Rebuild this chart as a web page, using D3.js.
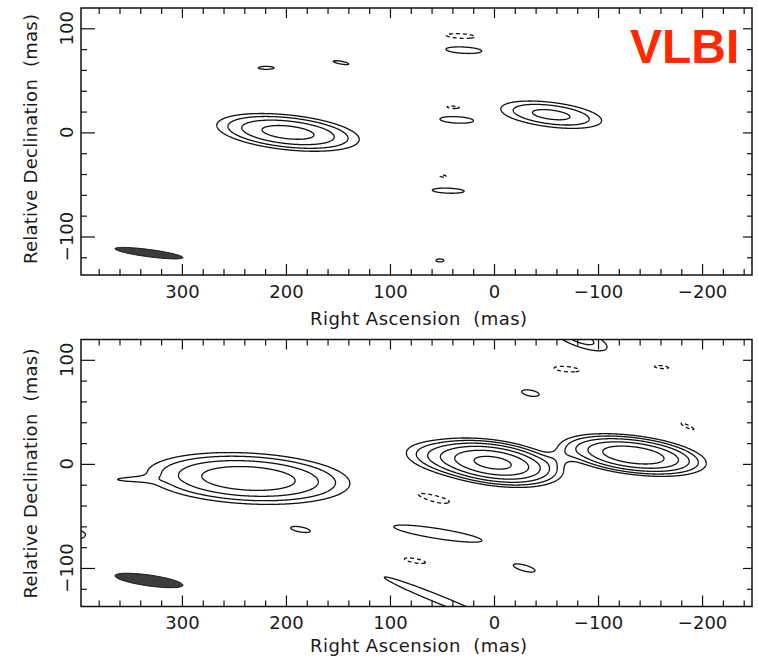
<!DOCTYPE html>
<html><head><meta charset="utf-8">
<script src="https://cdn.jsdelivr.net/npm/d3@7"></script>
<style>
  body { margin: 0; background: #fff; }
  svg text { font-family: "DejaVu Sans", sans-serif; fill: #1a1a1a; }
</style></head>
<body>
<svg id="chart" width="758" height="658"></svg>
<script>
// Contour levels in units of the lowest contour; negative ones are dashed
const levels = [1, 2, 4, 8, 16, 32];
const xMajor = [300, 200, 100, 0, -100, -200];
const yMajor = [100, 0, -100];

// Upper map: Gaussian brightness components
// (RA, Dec offsets in mas, peak in contour units, FWHM axes in mas, tilt in deg)
const topRA   = [198, -55, 29, 32, 36, 39, 44, 49, 52, 219, 147];
const topDec  = [0, 17, 79, 92.5, 12, 24, -56, -42, -123, 62, 67];
const topPeak = [11, 5, 1.3, -1.25, 1.3, -1.15, 1.25, -1.1, 1.15, 1.15, 1.15];
const topMaj  = [74, 64, 56, 50, 52, 30, 54, 15, 17, 34, 34];
const topMin  = [18, 15.5, 10, 8, 10, 6, 8.5, 5, 6.4, 6.4, 6];
const topPA   = [6, 7, 3, 3, 3, 3, 2, 0, 0, 0, 10];

// Lower map components
const botRA   = [236, 352, 0, 42, -134, -62, -82, -70, -35, -161, -186, 55, 24, 54, 76, -29, 52, 186, 402];
const botDec  = [-14, -15, 1, 5, 8.5, 6, 121, 91, 68, 93, 36, -34, -44, -67, -93, -100, -130.5, -63, -68];
const botPeak = [14, 0.95, 40, 4, 29, 0.9, 2.6, -1.3, 1.25, -1.15, -1.15, -1.3, 1.2, 1.5, -1.2, 1.25, 1.6, 1.2, 1.3];
const botMaj  = [100, 52, 58, 58, 64, 40, 48, 40, 30, 30, 30, 60, 28, 112, 40, 38, 140, 37, 30];
const botMin  = [25, 6, 19, 19, 17, 14, 14, 8, 10, 6, 6, 10, 8, 12.6, 8, 10, 9.3, 9.4, 14];
const botPA   = [3, 0, 8, 8, 7, -20, 20, 5, 10, 5, 25, 15, 10, 9, 10, 15, 22, 10, 0];

// Restoring beams (lower-left corner of each map)
const beamRA  = [331.7, 331.7];
const beamDec = [-116, -112];
const beamMaj = [66, 66];
const beamMin = [7, 10.5];
const beamPA  = [7.5, 8];

const svg = d3.select("#chart");
const left = 81, right = 752, panelH = 267;
const panelTops = [8, 339.5];

const x = d3.scaleLinear().domain([397, -248]).range([left, right]);

// Sampling grid (mas), slightly larger than the plotted window
const step = 0.5;
const raMax = 412, raMin = -262, decMax = 132, decMin = -148;
const nx = Math.round((raMax - raMin) / step) + 1;
const ny = Math.round((decMax - decMin) / step) + 1;

function brightness(ra, dec, peak, maj, min, pa) {
  const v = new Float64Array(nx * ny);
  const k = 4 * Math.LN2;
  for (let c = 0; c < ra.length; c++) {
    const t = pa[c] * Math.PI / 180, cs = Math.cos(t), sn = Math.sin(t);
    const a = k / (maj[c] * maj[c]), b = k / (min[c] * min[c]);
    const r = maj[c] * 1.8;
    const i0 = Math.max(0, Math.floor((raMax - (ra[c] + r)) / step));
    const i1 = Math.min(nx - 1, Math.ceil((raMax - (ra[c] - r)) / step));
    const j0 = Math.max(0, Math.floor((decMax - (dec[c] + r)) / step));
    const j1 = Math.min(ny - 1, Math.ceil((decMax - (dec[c] - r)) / step));
    for (let j = j0; j <= j1; j++) {
      const dy = (decMax - j * step) - dec[c];
      for (let i = i0; i <= i1; i++) {
        const dx = (raMax - i * step) - ra[c];
        const u = dx * cs + dy * sn, w = -dx * sn + dy * cs;
        v[j * nx + i] += peak[c] * Math.exp(-(a * u * u + b * w * w));
      }
    }
  }
  return v;
}

function drawPanel(idx, comps) {
  const top = panelTops[idx];
  const y = d3.scaleLinear().domain([119.5, -137]).range([top, top + panelH]);
  const g = svg.append("g");

  const clipId = "clip" + idx;
  g.append("clipPath").attr("id", clipId)
    .append("rect").attr("x", left).attr("y", top)
    .attr("width", right - left).attr("height", panelH);

  const plot = g.append("g").attr("clip-path", `url(#${clipId})`);

  const vals = brightness(...comps);
  const neg = vals.map(d => -d);
  const proj = d3.geoTransform({
    point(px, py) {
      this.stream.point(x(raMax - (px - 0.5) * step), y(decMax - (py - 0.5) * step));
    }
  });
  const path = d3.geoPath(proj);
  const gen = d3.contours().size([nx, ny]);

  plot.selectAll("path.pos").data(gen.thresholds(levels)(vals))
    .join("path").attr("class", "pos")
    .attr("d", path).attr("fill", "none")
    .attr("stroke", "#111").attr("stroke-width", 1.3).attr("stroke-linejoin", "round");

  plot.selectAll("path.neg").data(gen.thresholds([1])(neg))
    .join("path").attr("class", "neg")
    .attr("d", path).attr("fill", "none")
    .attr("stroke", "#111").attr("stroke-width", 1.3)
    .attr("stroke-dasharray", "4,3");

  // restoring beam
  const t = beamPA[idx] * Math.PI / 180;
  const pts = d3.range(0, 2 * Math.PI + 0.01, Math.PI / 60).map(a => {
    const u = beamMaj[idx] / 2 * Math.cos(a), w = beamMin[idx] / 2 * Math.sin(a);
    return [beamRA[idx] + u * Math.cos(t) - w * Math.sin(t),
            beamDec[idx] + u * Math.sin(t) + w * Math.cos(t)];
  });
  plot.append("path")
    .attr("d", d3.line().x(d => x(d[0])).y(d => y(d[1]))(pts))
    .attr("fill", "#3c3c3c").attr("stroke", "#111").attr("stroke-width", 1);

  // frame
  g.append("rect").attr("x", left).attr("y", top)
    .attr("width", right - left).attr("height", panelH)
    .attr("fill", "none").attr("stroke", "#111").attr("stroke-width", 1.5);

  const xMinor = d3.range(380, -250, -20).filter(d => d % 100 !== 0);
  const yMinor = d3.range(-120, 120, 20).filter(d => d % 100 !== 0);

  function axis(gen, tr, vals, size) {
    const a = g.append("g").attr("transform", tr)
      .call(gen.tickValues(vals).tickSize(size).tickFormat(""));
    a.select(".domain").remove();
    a.selectAll("line").attr("stroke", "#111").attr("stroke-width", 1.2);
    return a;
  }
  axis(d3.axisBottom(x), `translate(0,${top + panelH})`, xMinor, -6);
  axis(d3.axisTop(x), `translate(0,${top})`, xMinor, -6);
  axis(d3.axisTop(x), `translate(0,${top})`, xMajor, -10);
  axis(d3.axisLeft(y), `translate(${left},0)`, yMinor, -6);
  axis(d3.axisLeft(y), `translate(${left},0)`, yMajor, -14);
  axis(d3.axisRight(y), `translate(${right},0)`, yMinor, -5);
  axis(d3.axisRight(y), `translate(${right},0)`, yMajor, -9);

  const bx = g.append("g").attr("transform", `translate(0,${top + panelH})`)
    .call(d3.axisBottom(x).tickValues(xMajor).tickSize(-11).tickPadding(10)
      .tickFormat(d3.format("d")));
  bx.select(".domain").remove();
  bx.selectAll("line").attr("stroke", "#111").attr("stroke-width", 1.2);
  bx.attr("font-size", 18).attr("font-family", null);
  bx.selectAll("text").attr("fill", "#1a1a1a");

  // rotated Dec tick labels
  g.selectAll("text.ylab").data(yMajor).join("text").attr("class", "ylab")
    .attr("transform", d => `translate(73,${y(d)}) rotate(-90)`)
    .attr("text-anchor", "middle").attr("font-size", 18)
    .text(d3.format("d"));

  // axis titles
  g.append("text")
    .attr("transform", `translate(37,${top + (idx === 0 ? 131 : 134)}) rotate(-90)`)
    .attr("text-anchor", "middle").attr("font-size", 18)
    .attr("textLength", 250).attr("lengthAdjust", "spacing")
    .style("white-space", "pre")
    .text("Relative Declination  (mas)");

  g.append("text")
    .attr("x", 418.5).attr("y", top + panelH + (idx === 0 ? 50 : 45))
    .attr("text-anchor", "middle").attr("font-size", 18)
    .attr("textLength", 217).attr("lengthAdjust", "spacing")
    .style("white-space", "pre")
    .text("Right Ascension  (mas)");
}

drawPanel(0, [topRA, topDec, topPeak, topMaj, topMin, topPA]);
drawPanel(1, [botRA, botDec, botPeak, botMaj, botMin, botPA]);

svg.append("text")
  .attr("x", 630).attr("y", 63)
  .attr("font-size", 48).attr("font-weight", "bold")
  .style("font-family", '"Liberation Sans", Arial, sans-serif')
  .style("fill", "#ff2a00")
  .text("VLBI");
</script>
</body></html>
